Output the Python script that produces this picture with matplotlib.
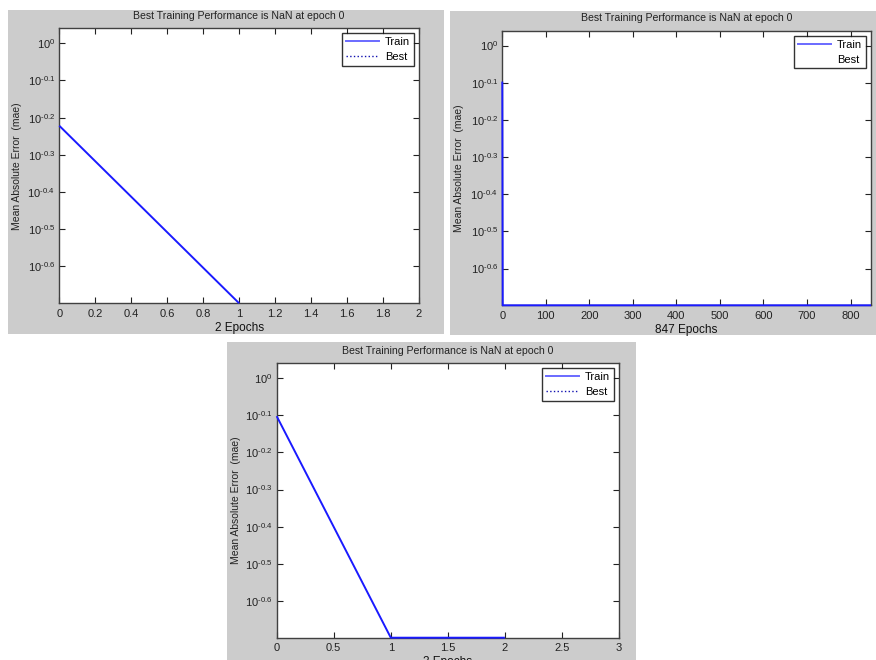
import numpy as np
import matplotlib
matplotlib.use("Agg")
import matplotlib.pyplot as plt
from matplotlib.patches import Rectangle
from matplotlib.lines import Line2D

plt.rcParams['font.family'] = ['Liberation Sans', 'DejaVu Sans']
plt.rcParams['mathtext.default'] = 'regular'

# ---- data -------------------------------------------------------------
title_text = "Best Training Performance is NaN at epoch 0"
ylabel_text = "Mean Absolute Error  (mae)"

# run 1: 2 epochs
run1_epochs = [0, 1, 2]
run1_train = [0.60, 0.20, np.nan]
run1_xlabel = "2 Epochs"
run1_xticks = [0, 0.2, 0.4, 0.6, 0.8, 1, 1.2, 1.4, 1.6, 1.8, 2]
run1_xticklabels = ["0", "0.2", "0.4", "0.6", "0.8", "1", "1.2", "1.4", "1.6", "1.8", "2"]

# run 2: 847 epochs
run2_epochs = [0, 1, 847]
run2_train = [0.80, 0.20, 0.20]
run2_xlabel = "847 Epochs"
run2_xticks = [0, 100, 200, 300, 400, 500, 600, 700, 800]
run2_xticklabels = ["0", "100", "200", "300", "400", "500", "600", "700", "800"]

# run 3: 3 epochs
run3_epochs = [0, 1, 2]
run3_train = [0.79, 0.20, 0.20]
run3_xlabel = "3 Epochs"
run3_xticks = [0, 0.5, 1, 1.5, 2, 2.5, 3]
run3_xticklabels = ["0", "0.5", "1", "1.5", "2", "2.5", "3"]

best_value = np.nan

ytick_exponents = [0, -0.1, -0.2, -0.3, -0.4, -0.5, -0.6]
ytick_labels = ["$10^{0}$", "$10^{\u20100.1}$", "$10^{\u20100.2}$",
                "$10^{\u20100.3}$", "$10^{\u20100.4}$",
                "$10^{\u20100.5}$", "$10^{\u20100.6}$"]

# ---- layout (pixels) ---------------------------------------------------
W, H = 876, 660
fig = plt.figure(figsize=(W / 100, H / 100), dpi=100)
fig.patch.set_facecolor("white")

GRAY = "#cccccc"
TRAIN_C = "#1a1aff"
BEST_C = "#1010b0"
SPINE_C = "#404040"


def px_rect(x0, y0, x1, y1):
    return [x0 / W, 1 - y1 / H, (x1 - x0) / W, (y1 - y0) / H]


def panel(bg, ax_box, epochs, train, xlim, xticks, xticklabels, xlabel,
          best_visible=True):
    gx0, gy0, gx1, gy1 = bg
    fig.patches.append(Rectangle((gx0 / W, 1 - gy1 / H), (gx1 - gx0) / W,
                                 (gy1 - gy0) / H, transform=fig.transFigure,
                                 facecolor=GRAY, edgecolor="none", zorder=-5))
    ax = fig.add_axes(px_rect(*ax_box))
    ax.set_zorder(2)
    ax.set_facecolor("white")
    ax.set_yscale("log")
    ax.plot(epochs, train, color=TRAIN_C, lw=1.4, clip_on=False, zorder=5,
            solid_capstyle="butt")
    ax.plot(epochs, [best_value] * len(epochs), color=BEST_C, lw=1.0, ls=":")
    ax.set_xlim(*xlim)
    ax.set_ylim(0.2, 10 ** 0.04)
    ax.set_xticks(xticks)
    ax.set_xticklabels(xticklabels)
    ax.set_yticks([10 ** e for e in ytick_exponents])
    ax.set_yticklabels(ytick_labels)
    ax.minorticks_off()
    ax.tick_params(direction="in", length=4, width=0.8, top=True, right=True,
                   labelsize=8, pad=4, colors="#222222")
    ax.tick_params(axis="y", labelsize=8, pad=3)
    for s in ax.spines.values():
        s.set_color(SPINE_C)
        s.set_linewidth(1.0)
    ax.set_title(title_text, fontsize=7.6, pad=7, color="#222222")
    ax.set_xlabel(xlabel, fontsize=8.5, labelpad=2, color="#111111")
    ax.set_ylabel(ylabel_text, fontsize=7.5, color="#222222")
    ax.yaxis.set_label_coords(-0.104, 0.5)
    handles = [Line2D([], [], color="#6a6aff", lw=1.4),
               Line2D([], [], color=BEST_C, lw=1.0, ls=":")
               if best_visible else Line2D([], [], color="none", lw=1.0)]
    leg = ax.legend(handles, ["Train", "Best"], loc="upper right", fontsize=8,
                    frameon=True, fancybox=False, handlelength=3.0,
                    handletextpad=0.5, borderaxespad=0.45, borderpad=0.35,
                    labelspacing=0.45)
    leg.get_frame().set_edgecolor("black")
    leg.get_frame().set_linewidth(1.0)
    return ax


panel((8, 10, 444, 334), (59.3, 28.3, 419, 303.3), run1_epochs, run1_train,
      (0, 2), run1_xticks, run1_xticklabels, run1_xlabel)
panel((450, 11, 876, 335), (502.3, 30.7, 871, 305.3), run2_epochs, run2_train,
      (0, 847), run2_xticks, run2_xticklabels, run2_xlabel, best_visible=False)
panel((226.7, 342, 636, 660), (276.7, 363.3, 619, 637.7), run3_epochs, run3_train,
      (0, 3), run3_xticks, run3_xticklabels, run3_xlabel)

fig.savefig("out.png", dpi=100, facecolor="white")
